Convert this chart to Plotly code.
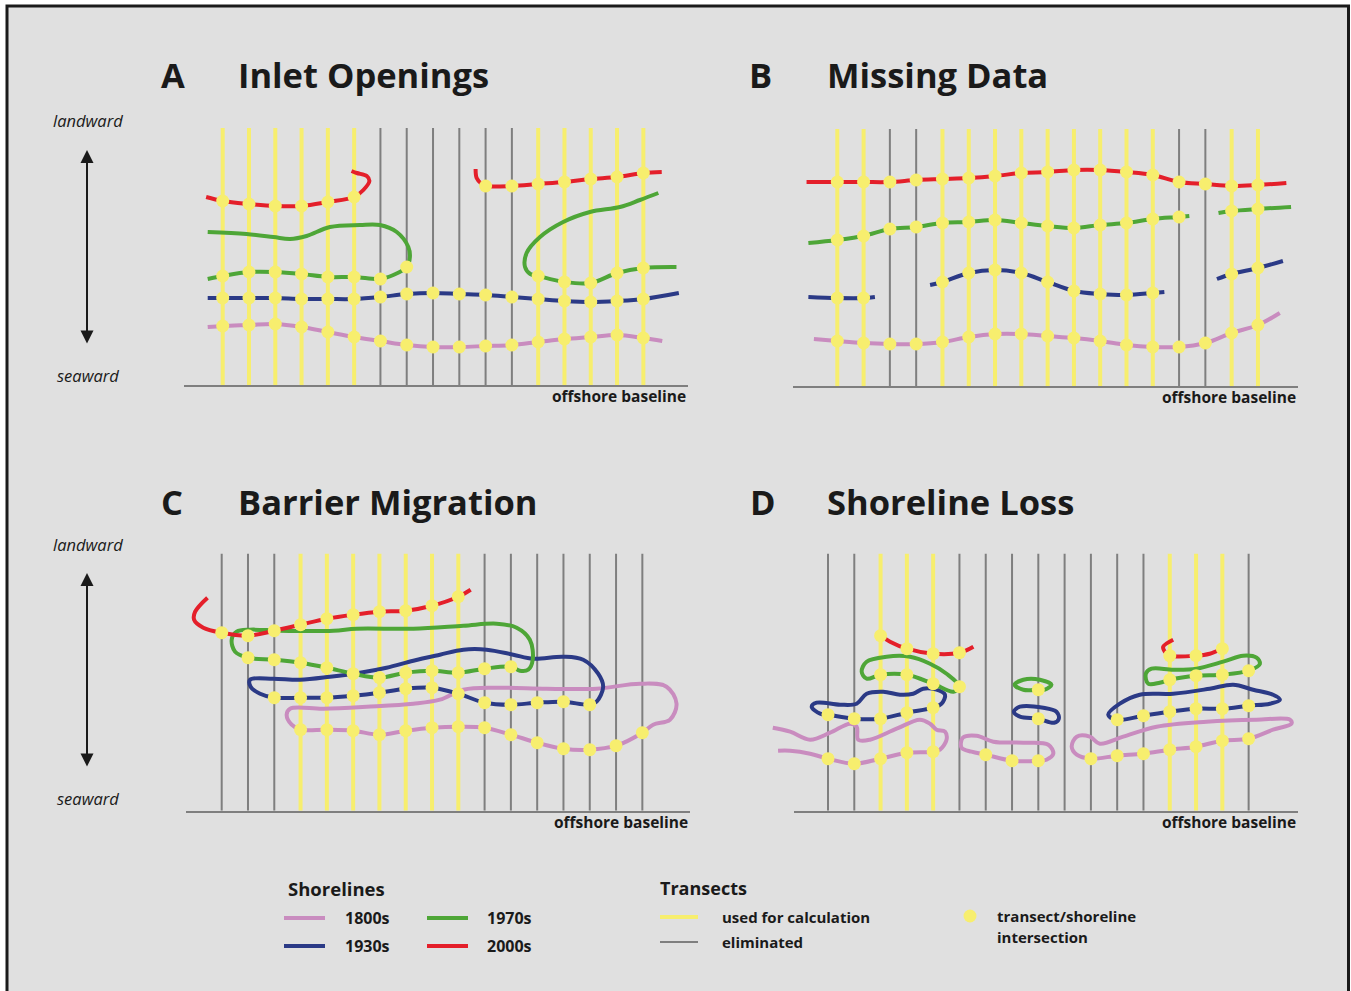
import plotly.graph_objects as go

W, H = 1351, 991
BG = "#e0e0e0"
YELLOW = "#f7ee6e"
GRAY = "#7f7f7f"
C1800 = "#c98cbf"
C1930 = "#2b3a86"
C1970 = "#4ea637"
C2000 = "#e41f2a"
FONT = "Open Sans"

# ---------------- data ----------------
N_TRANSECTS = 17
TRANSECT_LENGTH = 257          # distance from offshore baseline (landward)

# transect status: 1 = used for calculation, 0 = eliminated
A_used = [1, 1, 1, 1, 1, 1, 0, 0, 0, 0, 0, 0, 1, 1, 1, 1, 1]
B_used = [1, 1, 0, 0, 1, 1, 1, 1, 1, 1, 1, 1, 1, 0, 0, 1, 1]
C_used = [0, 0, 0, 1, 1, 1, 1, 1, 1, 1, 0, 0, 0, 0, 0, 0, 0]
D_used = [0, 0, 1, 1, 1, 0, 0, 0, 0, 0, 0, 0, 0, 1, 1, 1, 0]

# shorelines: segments of (transect position, distance from baseline, intersection flag)
A_2000s = [
    [(-0.63, 188, 0), (0, 184, 1), (1, 181, 1), (2, 179, 1), (3, 179, 1), (4, 183, 1), (5, 188, 1),
     (5.35, 195, 0), (5.58, 204, 0), (5.48, 209, 0), (5.1, 212, 0), (4.9, 214, 0)],
    [(9.62, 216, 0), (9.66, 207, 0), (9.85, 201, 0), (10, 199, 1), (11, 199, 1), (12, 201, 1), (13, 203, 1),
     (14, 206, 1), (15, 208, 1), (16, 212, 1), (16.7, 213, 0)],
]
A_1970s = [
    [(-0.57, 153, 0), (0.91, 151, 0), (1.93, 148, 0), (2.56, 146, 0), (3.19, 149, 0), (4.08, 158, 0),
     (5.22, 160, 0), (5.98, 160, 0), (6.62, 153, 0), (7.06, 138, 0), (7.12, 128, 0), (7, 118, 1),
     (6.49, 110, 0), (6, 106, 1), (5, 108, 1), (4, 108, 1), (3, 111, 1), (2, 113, 1), (1, 113, 1),
     (0, 109, 1), (-0.57, 106, 0)],
    [(16.57, 192, 0), (15.87, 185, 0), (15.11, 178, 0), (13.97, 173, 0), (12.95, 163, 0), (12.07, 148, 0),
     (11.56, 132, 0), (11.5, 118, 0), (11.7, 111, 0), (12, 109, 1), (13, 103, 1), (14, 102, 1),
     (15, 112, 1), (16, 117, 1), (17.26, 118, 0)],
]
A_1930s = [
    [(-0.57, 87, 0), (0, 87, 1), (1, 87, 1), (2, 87, 1), (3, 86, 1), (4, 86, 1), (5, 86, 1), (6, 88, 1),
     (7, 91, 1), (8, 92, 1), (9, 91, 1), (10, 90, 1), (11, 88, 1), (12, 86, 1), (13, 84, 1), (14, 83, 1),
     (15, 84, 1), (16, 86, 1), (17.35, 92, 0)],
]
A_1800s = [
    [(-0.57, 58, 0), (0, 59, 1), (1, 60, 1), (2, 61, 1), (3, 58, 1), (4, 53, 1), (5, 48, 1), (6, 44, 1),
     (7, 40, 1), (8, 38, 1), (9, 38, 1), (10, 39, 1), (11, 40, 1), (12, 43, 1), (13, 46, 1), (14, 48, 1),
     (15, 50, 1), (16, 47, 1), (16.72, 44, 0)],
]

B_2000s = [
    [(-1.17, 204, 0), (0, 204, 1), (1, 204, 1), (2, 204, 1), (3, 206, 1), (4, 207, 1), (5, 208, 1),
     (6, 210, 1), (7, 213, 1), (8, 214, 1), (9, 216, 1), (10, 216, 1), (11, 214, 1), (12, 211, 1),
     (13, 204, 1), (14, 202, 1), (15, 200, 1), (16, 201, 1), (17.08, 203, 0)],
]
B_1970s = [
    [(-1.1, 143, 0), (0, 146, 1), (1, 150, 1), (2, 157, 1), (3, 159, 1), (4, 163, 1), (5, 164, 1),
     (6, 166, 1), (7, 163, 1), (8, 160, 1), (9, 158, 1), (10, 161, 1), (11, 163, 1), (12, 167, 1),
     (13, 169, 1), (13.39, 170, 0)],
    [(14.5, 173, 0), (15, 175, 1), (16, 177, 1), (17.26, 179, 0)],
]
B_1930s = [
    [(-1.1, 89, 0), (0, 88, 1), (1, 88, 1), (1.43, 89, 0)],
    [(3.53, 101, 0), (4, 104, 1), (5, 113, 1), (6, 116, 1), (7, 113, 1), (8, 104, 1), (9, 95, 1),
     (10, 92, 1), (11, 91, 1), (12, 93, 1), (12.44, 94, 0)],
    [(14.44, 107, 0), (15, 112, 1), (16, 118, 1), (16.95, 125, 0)],
]
B_1800s = [
    [(-0.89, 47, 0), (0, 45, 1), (1, 43, 1), (2, 42, 1), (3, 42, 1), (4, 44, 1), (5, 49, 1), (6, 52, 1),
     (7, 52, 1), (8, 50, 1), (9, 48, 1), (10, 45, 1), (11, 41, 1), (12, 39, 1), (13, 39, 1), (14, 43, 1),
     (15, 53, 1), (16, 61, 1), (16.83, 73, 0)],
]

C_2000s = [
    [(-0.54, 213, 0), (-1.01, 199, 0), (-1.05, 191, 0), (-0.7, 183, 0), (0, 178, 1), (1, 175, 1),
     (2, 180, 1), (3, 186, 1), (4, 192, 1), (5, 196, 1), (6, 199, 1), (7, 200, 1), (8, 205, 1),
     (9, 214, 1), (9.47, 221, 0)],
]
C_1970s = [
    [(1, 153, 1), (0.51, 159, 0), (0.38, 171, 0), (0.57, 179, 0), (1.08, 181, 0), (2.22, 180, 0),
     (4.25, 180, 0), (5.13, 182, 0), (7.29, 182, 0), (9.19, 185, 0), (10.46, 187, 0), (11.22, 183, 0),
     (11.72, 171, 0), (11.83, 151, 0), (11.66, 141, 0), (11.34, 140, 0), (11, 144, 1), (10, 142, 1),
     (9, 138, 1), (8, 140, 1), (7, 138, 1), (6, 133, 1), (5, 137, 1), (4, 143, 1), (3, 148, 1),
     (2, 151, 1), (1, 153, 0)],
]
C_1930s = [
    [(1.08, 131, 0), (1.96, 132, 0), (2.98, 131, 0), (4.12, 134, 0), (5.26, 138, 0), (6.27, 143, 0),
     (7.29, 150, 0), (8.3, 156, 0), (9.19, 161, 0), (10.08, 161, 0), (11.09, 156, 0), (11.85, 152, 0),
     (12.99, 154, 0), (13.75, 151, 0), (14.32, 137, 0), (14.51, 124, 0), (14.26, 109, 0), (14, 106, 1),
     (13, 109, 1), (12, 108, 1), (11, 106, 1), (10, 108, 1), (9, 117, 1), (8, 123, 1), (7, 122, 1),
     (6, 118, 1), (5, 115, 1), (4, 113, 1), (3, 113, 1), (2, 113, 1), (1.46, 117, 0), (1.1, 124, 0),
     (1.08, 131, 0)],
]
C_1800s = [
    [(2.6, 102, 0), (3.87, 102, 0), (5.51, 104, 0), (7.29, 107, 0), (8.3, 111, 0), (9.19, 121, 0),
     (10.46, 123, 0), (12.36, 122, 0), (14.26, 122, 0), (15.91, 127, 0), (16.92, 124, 0), (17.3, 107, 0),
     (17.05, 91, 0), (16.41, 86, 0), (16, 78, 1), (15, 65, 1), (14, 61, 1), (13, 62, 1), (12, 68, 1),
     (11, 76, 1), (10, 83, 1), (9, 84, 1), (8, 83, 1), (7, 80, 1), (6, 76, 1), (5, 80, 1), (4, 81, 1),
     (3, 81, 1), (2.66, 86, 0), (2.47, 96, 0), (2.6, 102, 0)],
]

D_2000s = [
    [(2, 175, 1), (2.36, 169, 0), (3, 162, 1), (4, 157, 1), (5, 158, 1), (5.53, 164, 0)],
    [(13.13, 171, 0), (12.75, 164, 0), (12.81, 159, 0), (13, 155, 1), (14, 155, 1), (14.52, 157, 0),
     (15, 162, 1), (15.16, 164, 0)],
]
D_1970s = [
    [(5, 124, 1), (4.77, 119, 0), (4, 127, 1), (3, 136, 1), (2, 136, 1), (1.47, 132, 0), (1.28, 139, 0),
     (1.47, 149, 0), (2.23, 154, 0), (3.12, 154, 0), (3.88, 147, 0), (4.51, 137, 0), (5, 124, 0)],
    [(8, 121, 1), (7.43, 121, 0), (7.1, 126, 0), (7.43, 131, 0), (8.06, 131, 0), (8.5, 126, 0),
     (8.25, 121, 0), (8, 121, 0)],
    [(13, 131, 1), (14, 135, 1), (15, 136, 1), (16, 140, 1), (16.43, 147, 0), (16.3, 153, 0),
     (15.79, 155, 0), (15.03, 149, 0), (14.02, 142, 0), (13.13, 141, 0), (12.31, 142, 0), (12.09, 137, 0),
     (12.18, 127, 0), (12.62, 128, 0), (13, 131, 0)],
]
D_1930s = [
    [(0, 96, 1), (1, 92, 1), (2, 92, 1), (3, 98, 1), (4, 103, 1), (4.32, 107, 0), (4.45, 116, 0),
     (4.13, 121, 0), (3.62, 122, 0), (3.24, 117, 0), (2.74, 116, 0), (2.1, 119, 0), (1.47, 117, 0),
     (1.09, 107, 0), (0.46, 106, 0), (-0.43, 108, 0), (-0.62, 104, 0), (-0.3, 97, 0), (0, 96, 0)],
    [(8, 92, 1), (8.6, 88, 0), (8.78, 92, 0), (8.69, 99, 0), (8.19, 103, 0), (7.3, 104, 0), (7.07, 99, 0),
     (7.3, 94, 0), (8, 92, 0)],
    [(11, 91, 1), (12, 95, 1), (13, 99, 1), (14, 102, 1), (15, 102, 1), (16, 105, 1), (16.81, 107, 0),
     (17.19, 111, 0), (16.93, 116, 0), (16.17, 121, 0), (15.41, 126, 0), (14.52, 122, 0), (13.13, 117, 0),
     (11.86, 116, 0), (11.1, 107, 0), (10.66, 96, 0), (11, 91, 0)],
]
D_1800s = [
    [(-2.1, 83, 0), (-1.44, 79, 0), (-0.68, 71, 0), (0.08, 78, 0), (0.84, 87, 0), (1.09, 84, 0),
     (1.15, 71, 0), (1.6, 71, 0), (2.61, 82, 0), (3.49, 91, 0), (3.88, 87, 0), (4.13, 81, 0), (4.45, 79, 0),
     (4.51, 71, 0), (4.26, 61, 0), (4, 59, 1), (3, 58, 1), (2, 52, 1), (1, 47, 1), (0, 52, 1),
     (-0.68, 57, 0), (-1.44, 60, 0), (-1.9, 60, 0)],
    [(6, 56, 1), (7, 50, 1), (8, 50, 1), (8.31, 51, 0), (8.57, 57, 0), (8.38, 66, 0), (7.43, 68, 0),
     (6.29, 69, 0), (5.65, 75, 0), (5.13, 73, 0), (5.08, 63, 0), (5.46, 59, 0), (6, 56, 0)],
    [(10, 52, 1), (11, 55, 1), (12, 57, 1), (13, 61, 1), (14, 64, 1), (15, 70, 1), (16, 72, 1),
     (16.93, 81, 0), (17.63, 87, 0), (17.57, 91, 0), (16.3, 91, 0), (14.4, 89, 0), (12.5, 84, 0),
     (11.23, 74, 0), (10.34, 67, 0), (9.96, 74, 0), (9.46, 74, 0), (9.27, 64, 0), (9.46, 56, 0),
     (10, 52, 0)],
]

PANEL_LETTERS = ["A", "B", "C", "D"]
PANEL_TITLES = ["Inlet Openings", "Missing Data", "Barrier Migration", "Shoreline Loss"]
LEGEND_YEARS = ["1800s", "1930s", "1970s", "2000s"]

# ---------------- layout geometry (pixels) ----------------
SP = 26.29  # pixel spacing between transects
YMAX = 280
# dom: drawing area, base_dom: extent of the offshore baseline
panels = [
    dict(used=A_used, lines=[A_1800s, A_1930s, A_1970s, A_2000s], dom=(184, 688), base_dom=(184, 688),
         base=385, t0=222.7, head=(159, 236, 75)),
    dict(used=B_used, lines=[B_1800s, B_1930s, B_1970s, B_2000s], dom=(793, 1298), base_dom=(793, 1298),
         base=386, t0=837.3, head=(747, 825, 75)),
    dict(used=C_used, lines=[C_1800s, C_1930s, C_1970s, C_2000s], dom=(186, 690), base_dom=(186, 690),
         base=810.7, t0=221.7, head=(159, 236, 501)),
    dict(used=D_used, lines=[D_1800s, D_1930s, D_1970s, D_2000s], dom=(770, 1298), base_dom=(794, 1298),
         base=810.7, t0=828, head=(748, 825, 501)),
]
YEAR_COLORS = [C1800, C1930, C1970, C2000]


def px(x):
    return x / W


def py(y):
    return 1 - y / H


fig = go.Figure()
layout_axes = {}
for k, p in enumerate(panels):
    n = "" if k == 0 else str(k + 1)
    xa, ya = "x" + n, "y" + n
    # transects
    for flag, col, wid in [(0, GRAY, 2), (1, YELLOW, 4)]:
        xs, ys = [], []
        for i, u in enumerate(p["used"]):
            if u == flag:
                xs += [i, i, None]
                ys += [0, TRANSECT_LENGTH, None]
        fig.add_trace(go.Scatter(x=xs, y=ys, mode="lines", line=dict(color=col, width=wid),
                                 xaxis=xa, yaxis=ya, showlegend=False, hoverinfo="skip"))
    # shorelines
    dx, dy = [], []
    for segs, col in zip(p["lines"], YEAR_COLORS):
        for seg in segs:
            fig.add_trace(go.Scatter(x=[q[0] for q in seg], y=[q[1] for q in seg], mode="lines",
                                     line=dict(color=col, width=4, shape="spline", smoothing=1.0),
                                     xaxis=xa, yaxis=ya, showlegend=False, hoverinfo="skip"))
            for q in seg:
                if q[2]:
                    dx.append(q[0])
                    dy.append(q[1])
    fig.add_trace(go.Scatter(x=dx, y=dy, mode="markers", marker=dict(color=YELLOW, size=13),
                             xaxis=xa, yaxis=ya, showlegend=False, hoverinfo="skip", cliponaxis=False))
    d0, d1 = p["dom"]
    same = p["dom"] == p["base_dom"]
    layout_axes["xaxis" + n] = dict(domain=[px(d0), px(d1)], range=[(d0 - p["t0"]) / SP, (d1 - p["t0"]) / SP],
                                    anchor=ya, showgrid=False, zeroline=False, showticklabels=False, ticks="",
                                    showline=same, linecolor=GRAY, linewidth=2, fixedrange=True)
    layout_axes["yaxis" + n] = dict(domain=[py(p["base"]), py(p["base"] - YMAX)], range=[0, YMAX], anchor=xa,
                                    visible=False, fixedrange=True)
    if not same:
        # separate axis that only carries the offshore baseline
        m = str(k + 5)
        b0, b1 = p["base_dom"]
        fig.add_trace(go.Scatter(x=[], y=[], xaxis="x" + m, yaxis="y" + m, showlegend=False, hoverinfo="skip"))
        layout_axes["xaxis" + m] = dict(domain=[px(b0), px(b1)], range=[0, 1], anchor="y" + m, showgrid=False,
                                        zeroline=False, showticklabels=False, ticks="", showline=True,
                                        linecolor=GRAY, linewidth=2, fixedrange=True)
        layout_axes["yaxis" + m] = dict(domain=[py(p["base"]), py(p["base"] - YMAX)], range=[0, 1],
                                        anchor="x" + m, visible=False, fixedrange=True)

fig.update_layout(**layout_axes)

ann = []
BOLD = dict(family=FONT, color="#1a1a1a", weight="bold")
for k, p in enumerate(panels):
    lx, tx, ty = p["head"]
    ann.append(dict(x=px(lx), y=py(ty), text=PANEL_LETTERS[k], xanchor="left", yanchor="middle",
                    font=dict(size=34.5, **BOLD)))
    ann.append(dict(x=px(tx), y=py(ty), text=PANEL_TITLES[k], xanchor="left", yanchor="middle",
                    font=dict(size=34.5, **BOLD)))
    ann.append(dict(x=px(p["base_dom"][1]), y=py(p["base"] + 11), text="offshore baseline", xanchor="right",
                    yanchor="middle", font=dict(size=15.5, **BOLD)))

# landward / seaward arrows
for top, bot, tl, tb in [(150, 345, 121, 375), (573, 768, 544, 798)]:
    ann.append(dict(x=px(88), y=py(tl), text="landward", xanchor="center", yanchor="middle",
                    font=dict(family=FONT, size=16.5, color="#1a1a1a", style="italic")))
    ann.append(dict(x=px(88), y=py(tb), text="seaward", xanchor="center", yanchor="middle",
                    font=dict(family=FONT, size=16.5, color="#1a1a1a", style="italic")))
    ann.append(dict(x=px(87), y=py(top), ax=0, ay=bot - top, text="", showarrow=True, arrowside="end+start",
                    arrowhead=2, startarrowhead=2, arrowsize=1.3, startarrowsize=1.3, arrowwidth=2,
                    arrowcolor="#1a1a1a", standoff=0, startstandoff=0))

# legend
ann.append(dict(x=px(286), y=py(888), text="Shorelines", xanchor="left", yanchor="middle",
                font=dict(size=18.5, **BOLD)))
ann.append(dict(x=px(658), y=py(888), text="Transects", xanchor="left", yanchor="middle",
                font=dict(size=18, **BOLD)))
shapes = [dict(type="rect", xref="paper", yref="paper", x0=px(7), x1=px(1348.5), y0=py(6), y1=py(1010),
               fillcolor=BG, line=dict(color="#1a1a1a", width=3), layer="below")]
leg_pos = [(284, 343, 918), (284, 343, 946), (427, 485, 918), (427, 485, 946)]
for (lx0, tx0, ly), yr, col in zip(leg_pos, LEGEND_YEARS, YEAR_COLORS):
    shapes.append(dict(type="line", xref="paper", yref="paper", x0=px(lx0), x1=px(lx0 + 41), y0=py(ly), y1=py(ly),
                       line=dict(color=col, width=4)))
    ann.append(dict(x=px(tx0), y=py(ly), text=yr, xanchor="left", yanchor="middle", font=dict(size=16, **BOLD)))
shapes.append(dict(type="line", xref="paper", yref="paper", x0=px(660), x1=px(698), y0=py(917), y1=py(917),
                   line=dict(color=YELLOW, width=4)))
shapes.append(dict(type="line", xref="paper", yref="paper", x0=px(660), x1=px(698), y0=py(942), y1=py(942),
                   line=dict(color=GRAY, width=2)))
ann.append(dict(x=px(720), y=py(917), text="used for calculation", xanchor="left", yanchor="middle",
                font=dict(size=15, **BOLD)))
ann.append(dict(x=px(720), y=py(942), text="eliminated", xanchor="left", yanchor="middle",
                font=dict(size=15, **BOLD)))
shapes.append(dict(type="circle", xref="paper", yref="paper", x0=px(963.5), x1=px(976.5), y0=py(909.5),
                   y1=py(922.5), fillcolor=YELLOW, line=dict(width=0)))
ann.append(dict(x=px(995), y=py(916), text="transect/shoreline", xanchor="left", yanchor="middle",
                font=dict(size=15, **BOLD)))
ann.append(dict(x=px(995), y=py(937), text="intersection", xanchor="left", yanchor="middle",
                font=dict(size=15, **BOLD)))

for a in ann:
    a.setdefault("showarrow", False)
    a["xref"] = "paper"
    a["yref"] = "paper"

fig.update_layout(width=W, height=H, margin=dict(l=0, r=0, t=0, b=0), paper_bgcolor="white",
                  plot_bgcolor="rgba(0,0,0,0)", annotations=ann, shapes=shapes, font=dict(family=FONT))
fig.write_html("out.html", config={"displayModeBar": False, "staticPlot": True},
               post_script="document.body.style.margin='0';document.body.style.overflow='hidden';")
